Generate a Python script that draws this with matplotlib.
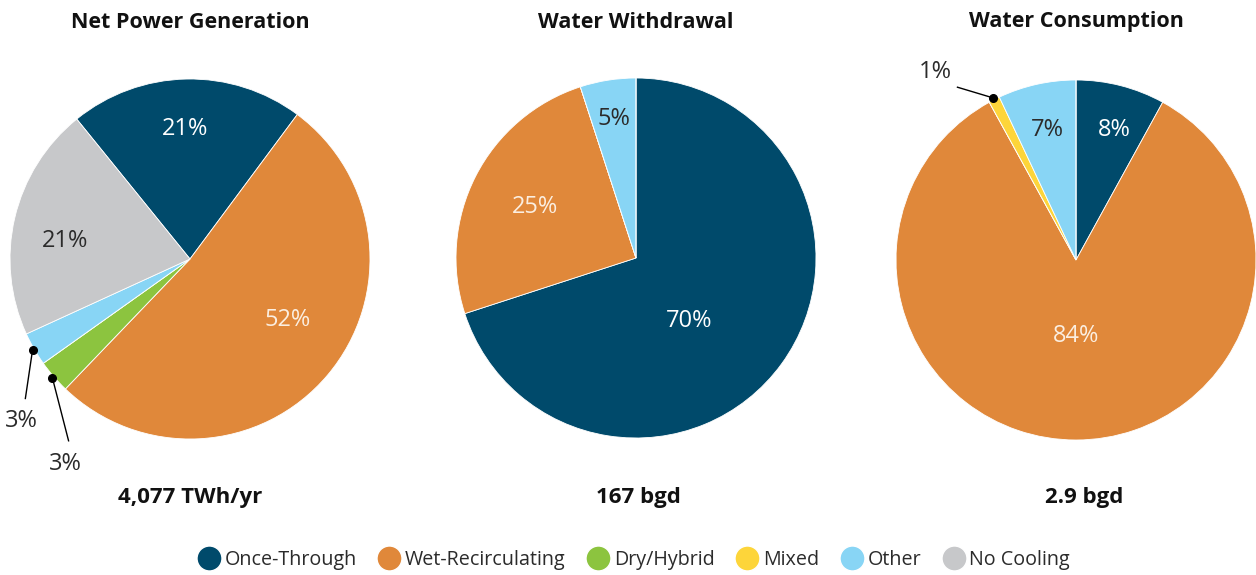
import numpy as np
import matplotlib.pyplot as plt
from matplotlib.lines import Line2D

plt.rcParams['font.family'] = ['Open Sans', 'DejaVu Sans']

categories = ["Once-Through", "Wet-Recirculating", "Dry/Hybrid", "Mixed", "Other", "No Cooling"]
colors = ["#004a6b", "#e0883a", "#8cc43f", "#fdd53a", "#88d5f5", "#c7c8ca"]
text_colors = ["white", "#fbeee0", "#2b2b2b", "#2b2b2b", "#2b2b2b", "#2b2b2b"]

titles = ["Net Power Generation", "Water Withdrawal", "Water Consumption"]
totals = ["4,077 TWh/yr", "167 bgd", "2.9 bgd"]

power_gen = [21, 52, 3, 0, 3, 21]
withdrawal = [70, 25, 0, 0, 5, 0]
consumption = [8, 84, 0, 1, 7, 0]
pie_values = [power_gen, withdrawal, consumption]

start_angles = [129, 90, 90]
# label radius (fraction of r) and angle nudge per slice; None -> leader line
label_pos = [
    [(0.72, 1), (0.64, 8), None, None, None, (0.70, 5)],
    [(0.46, -14), (0.63, 0), None, None, (0.78, 0), None],
    [(0.75, -2), (0.42, 0), None, None, (0.74, 0), None],
]
# leader lines: (pie, slice, label dx, label dy) in data units
leaders = [(0, 4, -0.04, -0.33), (0, 2, 0.09, -0.41), (2, 3, -0.20, 0.06)]
total_shift = [0, 2, 8]

W, H = 1256, 575
centers = [(190, 259), (636, 258), (1076, 260)]
R = 180

fig = plt.figure(figsize=(W / 100, H / 100), dpi=100)

for k, vals in enumerate(pie_values):
    cx, cy = centers[k]
    ax = fig.add_axes([(cx - R) / W, (H - cy - R) / H, 2 * R / W, 2 * R / H])
    wedges, _ = ax.pie(vals, colors=colors, startangle=start_angles[k], counterclock=False,
                       wedgeprops=dict(edgecolor="white", linewidth=0.6))
    ax.set_xlim(-1, 1)
    ax.set_ylim(-1, 1)
    ax.set_aspect("equal")
    ax.axis("off")

    for i, w in enumerate(wedges):
        if vals[i] == 0 or label_pos[k][i] is None:
            continue
        dist, nudge = label_pos[k][i]
        ang = np.deg2rad((w.theta1 + w.theta2) / 2 + nudge)
        ax.text(dist * np.cos(ang), dist * np.sin(ang), f"{vals[i]}%", ha="center", va="center",
                fontsize=17, color=text_colors[i])

    fig.text(cx / W, 1 - 22 / H, titles[k], ha="center", va="center",
             fontsize=15.5, fontweight="bold", color="#111111")
    fig.text((cx + total_shift[k]) / W, 1 - 497 / H, totals[k], ha="center", va="center",
             fontsize=16, fontweight="bold", color="#111111")

    for pk, si, dx, dy in leaders:
        if pk != k:
            continue
        w = wedges[si]
        ang = np.deg2rad((w.theta1 + w.theta2) / 2)
        px, py = 1.01 * np.cos(ang), 1.01 * np.sin(ang)
        lx, ly = px + dx, py + dy
        if dy < -0.2:
            ax.plot([px, lx], [py, ly + 0.06], color="black", lw=1, clip_on=False)
            ax.text(lx - 0.02, ly, f"{pie_values[pk][si]}%", ha="center", va="top",
                    fontsize=17, color="#2b2b2b", clip_on=False)
        else:
            ax.plot([px, lx], [py, ly], color="black", lw=1, clip_on=False)
            ax.text(lx - 0.03, ly + 0.02, f"{pie_values[pk][si]}%", ha="right", va="bottom",
                    fontsize=17, color="#2b2b2b", clip_on=False)
        ax.plot(px, py, "o", color="black", ms=5.5, clip_on=False)

# year heading, mostly cropped off the top edge as in the source
fig.text(12 / W, 1 - 7 / H, "2015", ha="left", va="bottom", fontsize=20,
         fontweight="bold", color="#2e6da4")

handles = [Line2D([0], [0], marker="o", color="w", markerfacecolor=c, markersize=18)
           for c in colors]
fig.legend(handles, categories, loc="center", bbox_to_anchor=(633 / W, 1 - 560 / H), ncol=6,
           frameon=False, fontsize=14.2, handletextpad=0.15, columnspacing=1.0, handlelength=1.3,
           labelcolor="#2b2b2b")

fig.savefig("out.png", dpi=100)
